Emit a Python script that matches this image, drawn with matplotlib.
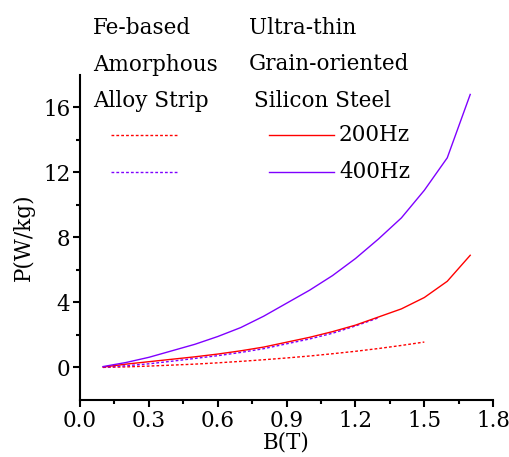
import numpy as np
import matplotlib
matplotlib.use('Agg')
import matplotlib.pyplot as plt
from matplotlib.lines import Line2D
from matplotlib.ticker import MultipleLocator

# flux density B (T)
b_full = [0.1, 0.2, 0.3, 0.4, 0.5, 0.6, 0.7, 0.8, 0.9, 1.0, 1.1, 1.2, 1.3, 1.4, 1.5, 1.6, 1.7]
b_amor200 = b_full[:15]
b_amor400 = b_full[:13]

# ultra-thin grain-oriented silicon steel (solid)
si_200 = [0.02, 0.2, 0.35, 0.5, 0.65, 0.82, 1.02, 1.25, 1.55, 1.85, 2.2, 2.6, 3.1, 3.6, 4.3, 5.3, 6.9]
si_400 = [0.05, 0.3, 0.62, 1.02, 1.42, 1.9, 2.45, 3.15, 3.95, 4.75, 5.65, 6.7, 7.9, 9.2, 10.9, 12.9, 16.8]
# Fe-based amorphous alloy strip (dashed)
am_200 = [0.0, 0.03, 0.08, 0.14, 0.2, 0.28, 0.37, 0.47, 0.58, 0.7, 0.84, 0.99, 1.16, 1.35, 1.56]
am_400 = [0.0, 0.1, 0.22, 0.38, 0.55, 0.72, 0.92, 1.15, 1.45, 1.75, 2.1, 2.55, 3.05]

RED = '#ff0000'
PURPLE = '#7f00ff'

plt.rcParams['font.family'] = ['DejaVu Serif']

fig = plt.figure(figsize=(5.1, 4.57), dpi=100)
ax = fig.add_axes([0.157, 0.125, 0.81, 0.711])

ax.plot(b_amor200, am_200, color=RED, lw=1.0, ls=(0, (2, 1.5)))
ax.plot(b_amor400, am_400, color=PURPLE, lw=1.0, ls=(0, (2, 1.5)))
ax.plot(b_full, si_200, color=RED, lw=1.0)
ax.plot(b_full, si_400, color=PURPLE, lw=1.0)

ax.set_xlim(0, 1.8)
ax.set_ylim(-2, 18)
ax.xaxis.set_major_locator(MultipleLocator(0.3))
ax.xaxis.set_minor_locator(MultipleLocator(0.15))
ax.xaxis.set_major_formatter(plt.FormatStrFormatter('%.1f'))
ax.set_yticks([0, 4, 8, 12, 16])
ax.set_yticks([2, 6, 10, 14], minor=True)
ax.spines['top'].set_visible(False)
ax.spines['right'].set_visible(False)
ax.spines['left'].set_linewidth(1.5)
ax.spines['bottom'].set_linewidth(1.5)
ax.tick_params(which='major', length=5, width=1.5, labelsize=15.5, pad=2)
ax.tick_params(which='minor', length=3, width=1.5)
ax.set_xlabel('B(T)', fontsize=15.5, labelpad=0)
ax.set_ylabel('P(W/kg)', fontsize=15.5, labelpad=6)

# legend block
tsize = 15.5
for i, s in enumerate(['Fe-based', 'Amorphous', 'Alloy Strip']):
    fig.text(93 / 510, 1 - (28 + 36.5 * i) / 457, s, fontsize=tsize, va='center', ha='left')
for i, s in enumerate(['Ultra-thin', 'Grain-oriented', 'Silicon Steel']):
    x0 = 254 if i == 2 else 249
    fig.text(x0 / 510, 1 - (28 + 36.5 * i) / 457, s, fontsize=tsize, va='center', ha='left')

for y, c, lab in [(135, RED, '200Hz'), (172, PURPLE, '400Hz')]:
    yf = 1 - y / 457
    fig.add_artist(Line2D([111 / 510, 178 / 510], [yf, yf], color=c, lw=1.0,
                          ls=(0, (2, 1.5)), transform=fig.transFigure))
    fig.add_artist(Line2D([269 / 510, 334 / 510], [yf, yf], color=c, lw=1.0,
                          transform=fig.transFigure))
    fig.text(339 / 510, yf, lab, fontsize=tsize, va='center', ha='left')

fig.savefig('out.png', dpi=100)
